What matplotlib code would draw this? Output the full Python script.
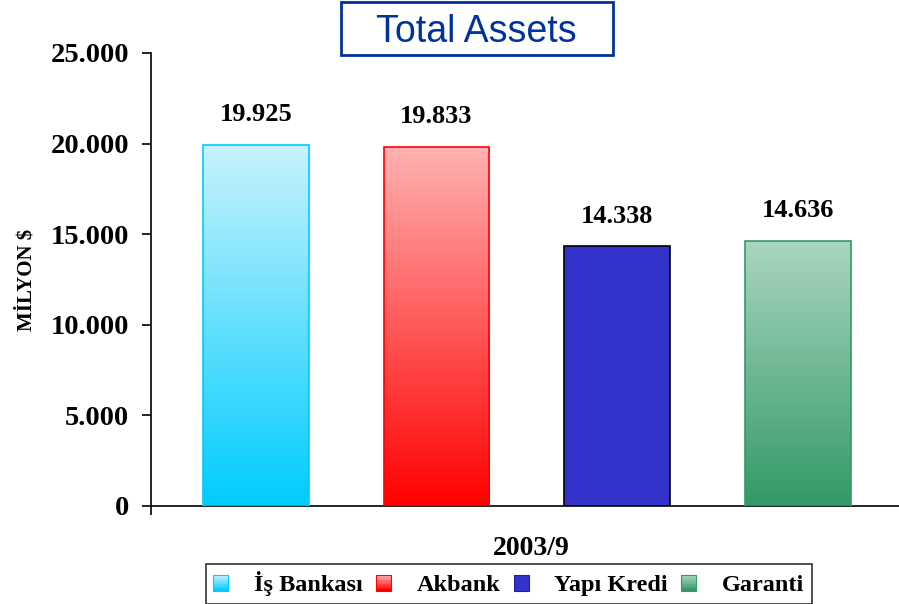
import numpy as np
import matplotlib
matplotlib.use("Agg")
import matplotlib.pyplot as plt
from matplotlib.colors import LinearSegmentedColormap, to_rgb
from matplotlib.patches import Patch, Rectangle
from matplotlib.legend_handler import HandlerBase

banks = ["İş Bankası", "Akbank", "Yapı Kredi", "Garanti"]
assets = [19925, 19833, 14338, 14636]
value_labels = ["19.925", "19.833", "14.338", "14.636"]
top_colors = ["#c8f3fd", "#ffb2b2", "#3333cc", "#a9d6c0"]
bottom_colors = ["#00ccff", "#ff0000", "#3333cc", "#339966"]
edge_colors = ["#00ccff", "#ff0000", "#000000", "#339966"]
yticks = [0, 5000, 10000, 15000, 20000, 25000]
ytick_labels = ["0", "5.000", "10.000", "15.000", "20.000", "25.000"]

serif = "Liberation Serif"


# legend square drawn as a small vertical gradient, like the bars
class GradientHandler(HandlerBase):
    def create_artists(self, legend, orig_handle, xdescent, ydescent, width, height, fontsize, trans):
        top = np.array(to_rgb(orig_handle.top))
        bot = np.array(to_rgb(orig_handle.bottom))
        n = 12
        arts = []
        for k in range(n):
            t = k / (n - 1)
            c = bot * (1 - t) + top * t
            arts.append(Rectangle((-xdescent, -ydescent + height * k / n), width, height / n,
                                  facecolor=c, edgecolor="none", transform=trans))
        arts.append(Rectangle((-xdescent, -ydescent), width, height, facecolor="none",
                              edgecolor=orig_handle.edge, linewidth=0.8, transform=trans))
        return arts


fig = plt.figure(figsize=(8.99, 6.04), dpi=100)
ax = fig.add_axes([0.168, 0.1623, 0.832, 0.75])

x = np.arange(len(banks))
width = 0.585
bars = ax.bar(x, assets, width=width, color="none", edgecolor=edge_colors, linewidth=1.2, zorder=3)

grad = np.linspace(1, 0, 256).reshape(-1, 1)
for i, b in enumerate(bars):
    cmap = LinearSegmentedColormap.from_list("g%d" % i, [bottom_colors[i], top_colors[i]])
    x0, y0 = b.get_x(), b.get_y()
    im = ax.imshow(grad, cmap=cmap, aspect="auto", vmin=0, vmax=1,
                   extent=[x0, x0 + b.get_width(), y0, y0 + b.get_height()], zorder=2)
    im.set_clip_path(b)
    ax.annotate(value_labels[i], (x[i], assets[i]), xytext=(0, 17), textcoords="offset points",
                ha="center", va="baseline", fontsize=19, fontweight="bold", family=serif)

ax.set_xlim(-0.58, 3.56)
ax.set_ylim(0, 25000)
ax.set_yticks(yticks)
ax.set_yticklabels(ytick_labels, fontsize=20.5, fontweight="bold", family=serif)
ax.tick_params(axis="y", length=6.5, width=1.2, direction="out", pad=9.5)
ax.set_xticks([-0.58])
ax.set_xticklabels([""])
ax.tick_params(axis="x", length=6.5, width=1.2)
for s in ["top", "right"]:
    ax.spines[s].set_visible(False)
ax.spines["left"].set_linewidth(1.2)
ax.spines["bottom"].set_linewidth(1.2)

ax.set_ylabel("MİLYON $", fontsize=15, fontweight="bold", family=serif, labelpad=10)
fig.text(0.591, 0.0927, "2003/9", ha="center", va="center", fontsize=20, fontweight="bold", family=serif)

# title in a blue box
fig.text(0.530, 1 - 42 / 604, "Total Assets", ha="center", va="baseline", fontsize=27,
         color="#003399", family="Liberation Sans")
fig.patches.append(Rectangle((341 / 899, 1 - 55 / 604), 272 / 899, 53 / 604, transform=fig.transFigure,
                             facecolor="none", edgecolor="#003399", linewidth=2))

handles = []
for i in range(4):
    h = Patch()
    h.top, h.bottom = top_colors[i], bottom_colors[i]
    h.edge = bottom_colors[i] if i != 2 else "#222288"
    handles.append(h)
leg = fig.legend(handles, banks, loc="upper center", bbox_to_anchor=(0.566, 1 - 564 / 604), ncol=4,
                 prop={"family": serif, "weight": "bold", "size": 17.5}, frameon=True, fancybox=False,
                 edgecolor="black", handlelength=0.62, handleheight=0.62, columnspacing=0.55,
                 handletextpad=1.05, borderpad=0.3, borderaxespad=0,
                 handler_map={Patch: GradientHandler()})
leg.get_frame().set_linewidth(1.2)

fig.savefig("out.png", dpi=100)
